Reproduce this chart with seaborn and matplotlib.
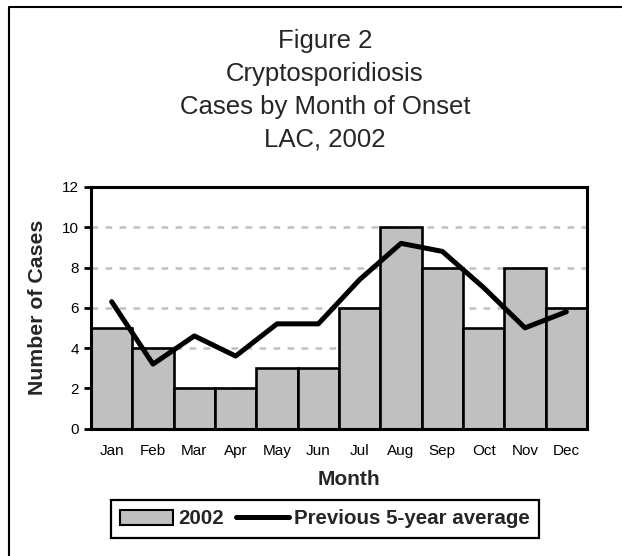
import matplotlib.pyplot as plt
from matplotlib.lines import Line2D
from matplotlib.patches import Patch
import seaborn as sns
import pandas as pd
import numpy as np

# data
months = ['Jan', 'Feb', 'Mar', 'Apr', 'May', 'Jun',
          'Jul', 'Aug', 'Sep', 'Oct', 'Nov', 'Dec']
cases_2002 = [5, 4, 2, 2, 3, 3, 6, 10, 8, 5, 8, 6]
avg_5yr = [6.3, 3.2, 4.6, 3.6, 5.2, 5.2, 7.4, 9.2, 8.8, 7.0, 5.0, 5.8]
yticks = [0, 2, 4, 6, 8, 10, 12]
title_lines = ['Figure 2', 'Cryptosporidiosis',
               'Cases by Month of Onset', 'LAC, 2002']
legend_labels = ['2002', 'Previous 5-year average']

sns.set_style('white')
plt.rcParams['font.family'] = ['Liberation Sans', 'DejaVu Sans']

W, H = 622, 556
df = pd.DataFrame({'Month': months, 'Cases': cases_2002, 'Avg': avg_5yr})

fig = plt.figure(figsize=(W / 100, H / 100), dpi=100)
ax = fig.add_axes([91 / W, 1 - 428.5 / H, 496 / W, 241.5 / H])

sns.barplot(data=df, x='Month', y='Cases', color='#c0c0c0', saturation=1,
            edgecolor='black', linewidth=1.9, width=1, ax=ax, zorder=2)
sns.lineplot(x=np.arange(len(months)), y=df['Avg'], color='black',
             linewidth=3.6, ax=ax, zorder=3)
if ax.get_legend() is not None:
    ax.get_legend().remove()

ax.set_xlim(-0.5, len(months) - 0.5)
ax.set_ylim(yticks[0], yticks[-1])
ax.set_yticks(yticks)
ax.set_xticks(np.arange(len(months)), months)
ax.tick_params(axis='y', labelsize=11, length=4.8, width=2, pad=4,
               direction='out', left=True, colors='black')
ax.tick_params(axis='x', labelsize=11, length=0, pad=11, colors='black')
ax.set_axisbelow(True)
ax.yaxis.grid(True, color='#c0c0c0', linewidth=1.8, linestyle=(0, (2.7, 2.9)))
ax.xaxis.grid(False)
for side in ['left', 'right', 'top', 'bottom']:
    ax.spines[side].set_visible(True)
    ax.spines[side].set_color('black')
    ax.spines[side].set_linewidth(2.2)

ax.set_xlabel('Month', fontsize=15, fontweight='bold')
ax.xaxis.set_label_coords((349 - 91) / 496, (428.5 - 470) / 241.5)
ax.xaxis.label.set_va('top')
ax.set_ylabel('')
fig.text(38 / W, 1 - 307.5 / H, 'Number of Cases', rotation=90,
         ha='center', va='center', fontsize=15.3, fontweight='bold')

# title, one line at a time
for i, line in enumerate(title_lines):
    fig.text(325 / W, 1 - (41 + 32.8 * i) / H, line, ha='center',
             va='center', fontsize=18.5)

handles = [Patch(facecolor='#c0c0c0', edgecolor='black', linewidth=1.5),
           Line2D([], [], color='black', linewidth=3.6)]
leg = fig.legend(handles, legend_labels, loc='center',
                 bbox_to_anchor=(325 / W, 1 - 519 / H), ncol=2,
                 frameon=True, fancybox=False, framealpha=1,
                 edgecolor='black', handlelength=2.6, handletextpad=0.25,
                 columnspacing=0.55, borderpad=0.45,
                 prop={'weight': 'bold', 'size': 14.8})
leg.get_frame().set_linewidth(1.6)

# chart area border (top and left only visible)
fig.add_artist(Line2D([9 / W, 9 / W, 1], [0, 1 - 7 / H, 1 - 7 / H],
                      transform=fig.transFigure, color='black', lw=1.5))

fig.savefig('out.png', dpi=100)
